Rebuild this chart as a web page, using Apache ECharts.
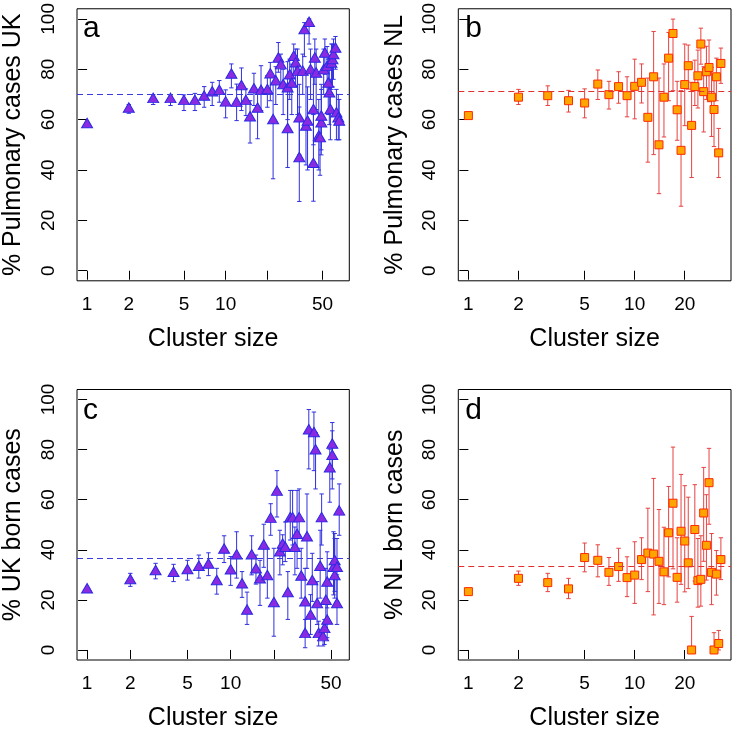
<!DOCTYPE html>
<html><head><meta charset="utf-8">
<script src="https://cdn.jsdelivr.net/npm/echarts@6/dist/echarts.min.js"></script>
<style>html,body{margin:0;padding:0;background:#fff}#c{width:732px;height:732px}</style>
</head><body><div id="c"></div>
<script>
// ---------- DATA ----------
// Panel a: % pulmonary cases UK
const sizeA = [1,2,3,4,5,6,7,8,9,10,11,12,13,14,15,16,17,18,20,21,22,23,24,25,26,28,28,29,30,31,32,33,34,34,36,37,38,39,40,41,43,43,44,45,47,48,49,49,51,52,54,55,56,57,58,59,60,62,63,65,66];
const pctA  = [58.0,64.2,68.0,68.0,67.2,67.2,68.9,70.6,71.2,66.6,77.7,66.5,73.1,67.2,60.7,71.8,64.2,71.2,71.5,77.8,59.6,75.0,84.0,81.4,73.5,56.0,72.2,77.4,74.1,84.7,82.1,78.8,44.5,60.3,78.8,95.3,57.0,59.0,98.2,79.4,63.6,42.2,84.0,78.1,53.0,52.4,58.3,61.0,79.4,86.0,80.7,74.1,70.2,63.6,82.0,83.4,85.4,88.0,62.3,60.3,59.0];
const loA   = [57.2,62.5,66.0,65.6,63.6,63.6,64.9,65.6,66.9,60.7,72.6,59.6,63.6,61.6,50.7,65.6,52.4,63.6,64.9,67.5,36.5,66.0,78.8,74.0,62.0,41.0,60.0,68.0,62.0,78.0,73.0,62.0,27.5,46.0,70.0,85.0,42.0,40.0,90.0,68.0,50.0,27.6,74.0,64.0,40.0,37.9,46.0,48.0,70.0,78.0,70.0,62.0,58.0,52.0,72.0,73.0,76.0,80.0,52.0,52.0,52.0];
const hiA   = [58.8,66.0,69.9,69.8,69.8,70.4,73.1,74.8,75.5,71.8,82.1,74.1,80.5,72.2,67.5,78.4,71.5,81.4,77.4,82.7,74.1,81.0,90.6,86.0,80.0,70.0,83.0,84.0,82.0,90.0,88.0,88.0,65.0,74.0,86.0,98.5,78.0,73.0,100,88.0,78.0,62.0,92.0,88.0,68.0,60.0,72.0,74.0,88.0,92.0,89.0,84.0,80.0,76.0,90.0,90.0,92.0,93.0,72.0,70.0,68.0];
const meanA = 69.9;

// Panel b: % pulmonary cases NL
const sizeB = [1,2,3,4,5,6,7,8,9,10,11,12,13,14,15,16,17,18,19,20,21,22,23,24,25,26,27,28,29,30,31,32,33];
const pctB  = [61.6,68.9,69.5,67.5,66.6,74.1,69.9,73.1,69.5,73.2,74.8,60.9,77.0,50.0,68.9,84.4,94.2,63.9,47.8,73.9,81.4,57.7,73.1,77.4,90.0,71.1,79.0,80.7,68.9,64.0,77.0,46.8,82.3];
const loB   = [61.0,66.0,65.6,63.0,60.7,68.0,64.2,66.5,61.1,60.3,66.6,43.1,46.1,30.6,53.1,67.5,71.5,51.8,25.6,57.6,72.1,37.0,65.6,64.6,82.0,55.1,68.0,67.1,53.3,49.3,67.5,37.0,74.4];
const hiB   = [62.2,72.0,73.4,71.6,72.2,79.7,75.2,79.0,77.0,84.0,82.1,76.5,95.0,76.5,82.1,94.6,99.9,75.2,71.5,90.0,89.6,74.8,83.6,87.6,96.3,81.0,89.1,91.6,80.7,77.8,84.4,56.5,88.4];
const meanB = 71.1;

// Panel c: % UK born cases
const sizeC = [1,2,3,4,5,6,7,8,9,10,11,12,13,14,15,16,17,18,19,20,21,22,23,24,25,26,27,28,29,30,31,33,33,34,35,36,37,38,39,40,41,42,43,44,45,46,47,47,49,51,51,52,53,53,55,55,57];
const pctC  = [24.0,27.7,31.3,30.6,31.7,33.0,33.9,27.3,39.9,31.6,37.6,26.0,15.5,37.6,32.0,28.0,41.5,29.3,52.2,18.5,63.0,38.8,41.9,40.6,22.5,52.4,52.4,40.6,45.8,52.4,29.1,18.8,6.2,44.8,87.5,13.5,27.3,86.4,79.5,18.1,6.2,33.0,52.4,4.9,8.2,19.4,11.5,26.7,72.3,81.8,77.3,32.6,35.3,29.3,32.6,18.1,55.1];
const loC   = [23.3,25.4,28.4,27.3,27.9,28.7,29.7,22.3,34.9,25.8,28.7,21.0,10.2,30.0,26.3,17.8,33.0,20.7,45.8,5.5,53.1,30.0,34.0,35.3,12.2,43.9,41.9,30.0,32.6,44.5,20.7,7.5,0.9,32.6,72.3,6.2,19.4,71.6,64.3,10.2,1.6,20.7,41.9,1.6,2.2,8.9,4.9,16.8,59.0,68.3,64.3,22.0,23.4,20.7,19.4,10.2,45.8];
const hiC   = [24.7,30.6,34.6,34.2,35.8,37.9,38.8,32.6,45.6,37.3,47.2,31.3,23.1,45.6,37.9,35.8,50.2,40.6,58.4,40.6,71.6,47.8,46.0,51.1,31.3,63.7,63.7,49.1,63.7,64.3,40.6,32.6,12.2,62.3,96.0,22.1,38.6,95.0,86.8,27.3,11.5,47.8,62.3,7.5,12.2,32.6,19.4,39.2,80.2,90.8,87.5,47.2,46.5,44.5,44.5,30.0,66.3];
const meanC = 36.6;

// Panel d: % NL born cases
const sizeD = [1,2,3,4,5,6,7,8,9,10,11,12,13,14,15,16,17,18,19,20,21,22,23,24,25,26,27,28,29,30,31,32,33];
const pctD  = [23.3,28.6,26.9,24.4,36.9,35.8,31.0,33.3,28.9,29.9,36.1,38.7,38.3,35.4,31.2,46.8,58.6,29.0,47.4,43.5,34.8,0.0,48.1,27.7,28.2,54.7,41.8,66.8,31.0,0.0,30.3,2.6,36.1];
const loD   = [22.8,25.8,23.3,20.5,31.2,29.2,25.8,27.4,21.3,18.6,28.1,23.3,14.0,18.6,18.1,29.2,32.4,19.1,26.2,23.2,24.5,0.0,27.5,17.1,17.5,35.4,27.9,50.2,18.1,0.0,21.9,0.0,28.1];
const hiD   = [23.8,31.5,30.6,28.6,42.7,42.0,36.9,40.6,37.2,43.2,44.8,56.6,68.5,56.1,49.0,65.3,81.0,44.8,70.1,65.6,61.0,13.4,66.0,44.5,45.6,72.9,62.0,80.5,46.5,6.9,39.7,7.8,44.8];
const meanD = 33.6;

const labelA = '% Pulmonary cases UK', labelB = '% Pulmonary cases NL';
const labelC = '% UK born cases', labelD = '% NL born cases';
const xTitle = 'Cluster size';
const xTicksAC = [1,2,5,10,20,50], xLabelsAC = [1,2,5,10,50];
const xTicksBD = [1,2,5,10,20], xLabelsBD = [1,2,5,10,20];
const yTicks = [0,20,40,60,80,100];
const panelLetters = ['a','b','c','d'];

// ---------- STYLE ----------
const FONT = 'Liberation Sans, Arial, Helvetica, sans-serif';
const triFill = '#8A2BE2', triEdge = '#2a2ae6', triBar = '#3030e0';
const sqFill = '#FFA500', sqEdge = '#FF2A00', sqBar = '#E84040';

const grids = [
  {left: 76,    top: 8,     width: 273.3, height: 272.8},
  {left: 458.3, top: 8,     width: 272.7, height: 272.8},
  {left: 76,    top: 389.5, width: 273.3, height: 273},
  {left: 458.3, top: 389.5, width: 272.7, height: 273}
];
const lg = v => Math.log10(v);

function xAxisFor(i, sizes, ticks, labels) {
  const L = lg(Math.max.apply(null, sizes));
  return {
    type: 'value', gridIndex: i, min: -0.04 * L, max: 1.04 * L,
    name: xTitle, nameLocation: 'middle', nameGap: 46,
    nameTextStyle: {fontSize: 25, color: '#000', fontFamily: FONT},
    axisLine: {show: false}, splitLine: {show: false},
    axisTick: {show: true, length: 9, customValues: ticks.map(lg), lineStyle: {color: '#000', width: 1}},
    axisLabel: {customValues: labels.map(lg), fontSize: 19, color: '#000', fontFamily: FONT, margin: 14,
      formatter: v => String(Math.round(Math.pow(10, v)))}
  };
}
function yAxisFor(i, name) {
  return {
    type: 'value', gridIndex: i, min: -4, max: 104,
    name: name, nameLocation: 'middle', nameGap: 51,
    nameTextStyle: {fontSize: 25, color: '#000', fontFamily: FONT},
    axisLine: {show: false}, splitLine: {show: false},
    axisTick: {show: true, length: 9, customValues: yTicks, lineStyle: {color: '#000', width: 1}},
    axisLabel: {customValues: yTicks, rotate: 90, fontSize: 19, color: '#000', fontFamily: FONT, margin: 19}
  };
}
function errRender(color) {
  return function (params, api) {
    const x = api.value(0), lo = api.value(1), hi = api.value(2);
    const a = api.coord([x, lo]), b = api.coord([x, hi]);
    const cw = 2.2, st = {stroke: color, lineWidth: 1};
    return {type: 'group', children: [
      {type: 'line', shape: {x1: a[0], y1: a[1], x2: b[0], y2: b[1]}, style: st},
      {type: 'line', shape: {x1: a[0] - cw, y1: a[1], x2: a[0] + cw, y2: a[1]}, style: st},
      {type: 'line', shape: {x1: b[0] - cw, y1: b[1], x2: b[0] + cw, y2: b[1]}, style: st}
    ]};
  };
}
function panelSeries(i, sizes, pct, lo, hi, mean, tri) {
  const barColor = tri ? triBar : sqBar;
  return [
    {type: 'custom', xAxisIndex: i, yAxisIndex: i, renderItem: errRender(barColor),
     encode: {x: 0, y: [1, 2]}, z: 2, silent: true,
     data: sizes.map((s, k) => [lg(s), lo[k], hi[k]]),
     markLine: {silent: true, symbol: 'none', label: {show: false},
       lineStyle: {color: tri ? '#3a3ae0' : '#E03030', type: [6, 4], width: 1},
       data: [{yAxis: mean}]}},
    {type: 'scatter', xAxisIndex: i, yAxisIndex: i, z: 3,
     symbol: tri ? 'triangle' : 'rect', symbolSize: tri ? [11, 9.5] : 8,
     symbolOffset: tri ? [0, -1.6] : [0, 0],
     itemStyle: {color: tri ? triFill : sqFill, borderColor: tri ? triEdge : sqEdge, borderWidth: 1, opacity: 1},
     data: sizes.map((s, k) => [lg(s), pct[k]])}
  ];
}

const option = {
  animation: false,
  backgroundColor: '#fff',
  grid: grids.map(g => Object.assign({show: true, borderColor: '#000', borderWidth: 1, containLabel: false}, g)),
  xAxis: [
    xAxisFor(0, sizeA, xTicksAC, xLabelsAC), xAxisFor(1, sizeB, xTicksBD, xLabelsBD),
    xAxisFor(2, sizeC, xTicksAC, xLabelsAC), xAxisFor(3, sizeD, xTicksBD, xLabelsBD)
  ],
  yAxis: [yAxisFor(0, labelA), yAxisFor(1, labelB), yAxisFor(2, labelC), yAxisFor(3, labelD)],
  series: [].concat(
    panelSeries(0, sizeA, pctA, loA, hiA, meanA, true),
    panelSeries(1, sizeB, pctB, loB, hiB, meanB, false),
    panelSeries(2, sizeC, pctC, loC, hiC, meanC, true),
    panelSeries(3, sizeD, pctD, loD, hiD, meanD, false)
  ),
  graphic: panelLetters.map((t, i) => ({
    type: 'text', left: grids[i].left + 7, top: grids[i].top + 6,
    style: {text: t, font: '30px ' + FONT, fill: '#000'}
  }))
};
const chart = echarts.init(document.getElementById('c'), null, {renderer: 'canvas'});
chart.setOption(option);
</script></body></html>
